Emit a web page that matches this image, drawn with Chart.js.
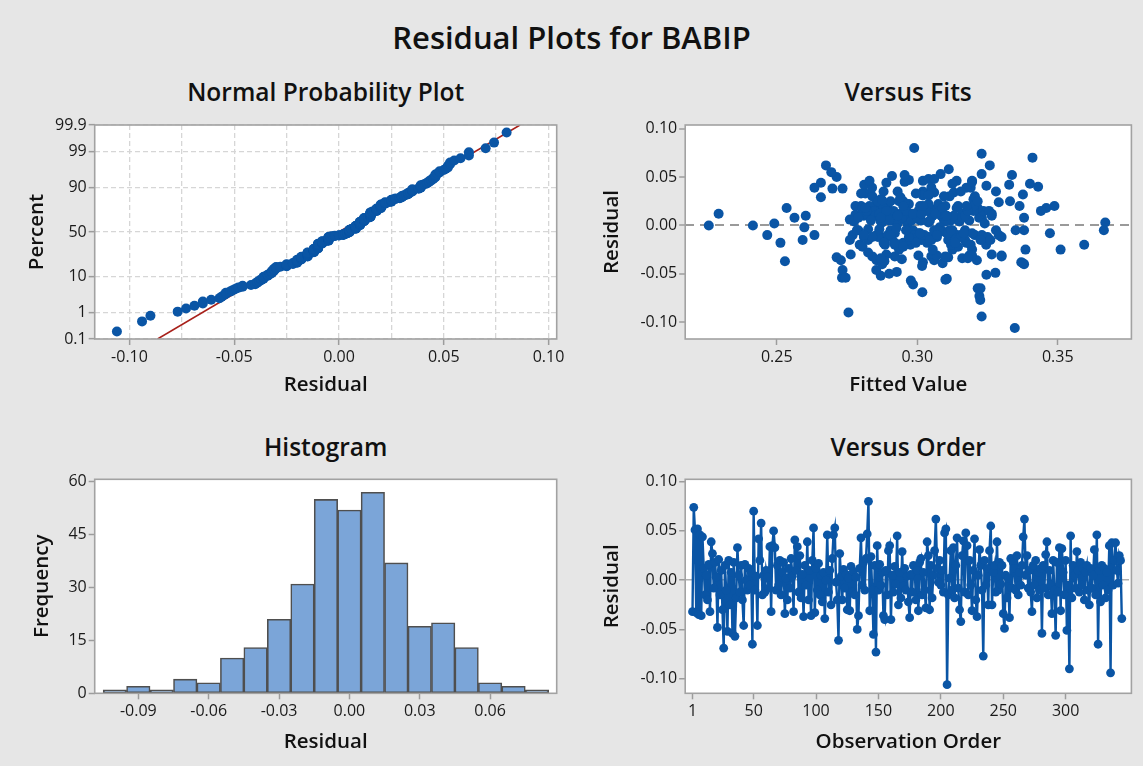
<!DOCTYPE html>
<html><head><meta charset="utf-8">
<script src="https://cdn.jsdelivr.net/npm/chart.js@4.4.1/dist/chart.umd.min.js"></script>
<style>
html,body{margin:0;padding:0;background:#e6e6e6;}
#page{position:relative;width:1143px;height:766px;overflow:hidden;background:#e6e6e6;font-family:'Open Sans',sans-serif;color:#111;}
canvas{position:absolute;}
.ttl{position:absolute;text-align:center;white-space:nowrap;font-weight:600;color:#111;}
</style></head><body>
<div id="page">
<div class="ttl" style="left:0;width:1143px;top:17px;font-size:31px;line-height:40px;">Residual Plots for BABIP</div>
<div class="ttl" style="left:94.7px;width:462px;top:76px;font-size:24.5px;line-height:32px;">Normal Probability Plot</div>
<div class="ttl" style="left:685.2px;width:446px;top:76px;font-size:24.5px;line-height:32px;">Versus Fits</div>
<div class="ttl" style="left:94.7px;width:462px;top:431px;font-size:24.5px;line-height:32px;">Histogram</div>
<div class="ttl" style="left:685.2px;width:446px;top:431px;font-size:24.5px;line-height:32px;">Versus Order</div>
<canvas id="cTL" width="571" height="300" style="left:0;top:110px"></canvas>
<canvas id="cTR" width="572" height="300" style="left:571px;top:110px"></canvas>
<canvas id="cBL" width="571" height="301" style="left:0;top:465px"></canvas>
<canvas id="cBR" width="572" height="301" style="left:571px;top:465px"></canvas>
</div>
<script>
// ---------------- DATA ----------------
// residuals in observation order (1..345)
const residuals = [
-0.032,0.074,0.051,-0.033,0.052,-0.035,0.046,-0.036,0.044,0.012,
-0.015,0.005,-0.020,0.016,-0.032,0.039,0.027,-0.008,0.018,0.003,
-0.048,0.021,-0.015,0.010,-0.030,-0.069,0.015,-0.010,-0.052,0.020,
-0.025,0.008,-0.054,0.018,-0.057,-0.018,0.033,0.005,-0.012,0.015,
-0.020,-0.046,0.016,0.000,-0.010,0.012,-0.005,0.008,-0.065,0.070,
-0.010,0.004,-0.046,0.042,0.020,0.058,-0.015,0.005,-0.012,0.010,
0.003,-0.008,0.034,-0.032,0.035,0.050,0.033,-0.010,0.015,-0.005,
0.020,-0.015,0.008,0.018,-0.034,0.002,-0.020,0.012,-0.008,0.022,
0.004,-0.032,0.041,0.010,0.034,-0.012,0.025,-0.018,0.006,-0.037,
0.015,-0.005,0.039,-0.020,0.010,-0.036,0.020,0.053,-0.033,0.012,
-0.010,0.017,-0.015,0.005,-0.022,0.008,-0.039,0.000,0.046,-0.012,
0.010,-0.025,0.022,0.046,0.053,-0.002,-0.020,-0.061,0.027,0.004,
-0.020,0.011,-0.008,0.006,-0.030,0.002,-0.031,0.014,-0.012,0.009,
-0.015,0.003,-0.050,-0.036,0.012,0.043,-0.005,0.018,-0.010,0.022,
0.047,0.080,-0.031,0.024,-0.010,-0.055,0.015,-0.073,0.035,-0.010,
0.016,-0.005,0.008,-0.036,-0.040,0.010,-0.015,0.030,0.035,-0.040,
0.005,-0.012,0.014,-0.004,0.045,-0.025,0.008,-0.018,0.029,-0.006,
0.012,-0.010,0.004,-0.022,-0.038,0.006,-0.012,0.015,0.014,-0.020,
0.010,-0.031,0.018,0.022,-0.015,0.008,-0.010,-0.028,0.039,0.025,
-0.030,0.015,-0.018,0.005,0.030,0.062,0.012,-0.002,0.020,-0.005,
0.010,-0.012,0.048,0.052,-0.106,-0.015,0.002,0.030,-0.010,0.033,
-0.018,0.015,0.043,-0.008,-0.030,-0.042,0.025,0.040,-0.012,0.048,
0.035,-0.015,0.020,-0.005,-0.031,0.010,0.042,-0.020,-0.037,0.005,
0.031,0.015,-0.010,-0.077,0.020,-0.005,0.012,-0.025,0.030,0.055,
-0.025,0.008,0.015,-0.012,0.039,-0.010,0.018,-0.004,0.015,-0.034,
-0.049,0.005,-0.018,0.002,-0.038,0.022,-0.008,0.018,0.012,-0.010,
0.025,-0.015,0.008,-0.005,0.015,0.044,0.062,0.005,0.025,-0.008,
0.010,-0.012,-0.032,0.015,-0.005,0.020,-0.018,0.008,-0.010,0.012,
-0.054,0.015,-0.008,0.026,0.039,-0.015,0.010,-0.005,-0.034,0.020,
-0.010,-0.056,0.018,-0.012,0.033,-0.031,0.032,0.008,-0.015,0.020,
-0.051,-0.005,-0.090,0.045,-0.018,0.015,0.005,-0.008,0.029,0.010,
-0.012,0.018,-0.005,0.012,-0.020,0.008,0.015,-0.010,-0.025,0.012,
-0.008,0.005,0.031,-0.015,0.046,-0.065,0.010,-0.022,0.015,-0.005,
0.012,-0.018,0.008,-0.010,0.035,-0.094,0.038,-0.005,0.020,0.038,
0.010,-0.003,0.025,0.020,-0.039
];
// fitted values paired with residuals
const fittedValues = [
0.3050,0.3229,0.2910,0.2713,0.3337,0.2945,0.3140,0.2728,0.2657,0.2293,
0.2880,0.3120,0.3594,0.2960,0.3300,0.2634,0.3200,0.3472,0.2535,0.3669,
0.2927,0.2850,0.2592,0.2603,0.2763,0.3018,0.3075,0.2466,0.2870,0.3364,
0.3385,0.2563,0.2732,0.3459,0.2977,0.2513,0.2815,0.3010,0.2905,0.3180,
0.2795,0.2734,0.3065,0.2258,0.2634,0.2940,0.3664,0.3230,0.3215,0.3410,
0.3155,0.2870,0.2854,0.3327,0.3488,0.3112,0.2825,0.3095,0.2990,0.2785,
0.3040,0.2915,0.3060,0.2840,0.2930,0.2713,0.3025,0.3205,0.2860,0.3115,
0.2800,0.3045,0.2955,0.3140,0.3160,0.2491,0.2885,0.3265,0.2980,0.2895,
0.3100,0.2920,0.3246,0.2810,0.3130,0.3035,0.2950,0.3175,0.2760,0.2529,
0.3005,0.2790,0.3190,0.2975,0.3085,0.3212,0.2830,0.3083,0.3110,0.2945,
0.2865,0.3050,0.3170,0.2910,0.2805,0.3220,0.3090,0.2415,0.3195,0.3000,
0.2835,0.3125,0.2970,0.3020,0.3229,0.3080,0.2935,0.2985,0.2870,0.3150,
0.3245,0.2780,0.3005,0.3150,0.2890,0.2965,0.3185,0.2840,0.3070,0.2925,
0.3110,0.2875,0.2900,0.3060,0.2815,0.3125,0.2985,0.3210,0.2770,0.3040,
0.2970,0.2989,0.3004,0.3290,0.2855,0.3105,0.2915,0.3221,0.3020,0.3135,
0.2805,0.3170,0.2990,0.2855,0.2875,0.3055,0.2760,0.3115,0.2880,0.3380,
0.2935,0.3250,0.3005,0.2825,0.2955,0.3195,0.2870,0.3035,0.2657,0.3090,
0.3160,0.2895,0.2775,0.3145,0.3020,0.2960,0.3300,0.2845,0.3225,0.2920,
0.2995,0.3195,0.2880,0.3075,0.3015,0.2790,0.3140,0.2825,0.3175,0.2905,
0.3060,0.3235,0.2950,0.3185,0.2840,0.2675,0.3080,0.2598,0.3010,0.2905,
0.3130,0.2860,0.3040,0.2955,0.3347,0.3050,0.2930,0.3205,0.3165,0.2800,
0.2885,0.3255,0.3401,0.3105,0.3265,0.3017,0.2935,0.3430,0.2810,0.3060,
0.3155,0.2975,0.3100,0.3280,0.3070,0.2850,0.2811,0.3190,0.2883,0.3045,
0.3020,0.2900,0.3230,0.3224,0.2780,0.3125,0.2965,0.3510,0.3095,0.2694,
0.2935,0.3160,0.2820,0.3040,0.2839,0.2990,0.3215,0.2865,0.3080,0.3180,
0.3278,0.3015,0.2880,0.3240,0.3370,0.2955,0.3110,0.2805,0.3050,0.3290,
0.2860,0.3135,0.2945,0.3060,0.3200,0.2890,0.3258,0.2980,0.3330,0.2920,
0.3170,0.2840,0.3100,0.3030,0.2785,0.3145,0.2995,0.3380,0.2905,0.3065,
0.2745,0.2960,0.3195,0.2875,0.3050,0.3260,0.2930,0.3120,0.2870,0.3200,
0.3025,0.3100,0.2815,0.3155,0.2995,0.3300,0.3376,0.2895,0.3045,0.2950,
0.3246,0.3075,0.2755,0.3195,0.2920,0.3180,0.2835,0.3010,0.2940,0.3265,
0.2970,0.3090,0.3350,0.2865,0.3120,0.3000,0.3440,0.2810,0.3055,0.2985,
0.3165,0.2900,0.3040,0.3225,0.2830,0.3225,0.3100,0.2950,0.2890,0.3380,
0.3015,0.3135,0.2870,0.3070,0.3280,0.3229,0.2698,0.2960,0.3175,0.2734,
0.3105,0.2925,0.3215,0.3020,0.3376
];
// histogram
const histBinCenters = [-0.10,-0.09,-0.08,-0.07,-0.06,-0.05,-0.04,-0.03,-0.02,-0.01,0.00,0.01,0.02,0.03,0.04,0.05,0.06,0.07,0.08];
const histCounts     = [1,2,1,4,3,10,13,21,31,55,52,57,37,19,20,13,3,2,1];
// normal-plot fitted line (residual at 0.1% and 99.9%)
const npLineResidual = [-0.0866, 0.0864];
const npLinePercent  = [0.1, 99.9];
// tick values
const npXTicks    = [-0.10,-0.075,-0.05,-0.025,0,0.025,0.05,0.075,0.10];
const npPctTicks  = [0.1,1,10,50,90,99,99.9];
const fitsXTicks  = [0.25,0.30,0.35];
const residTicks  = [-0.10,-0.05,0,0.05,0.10];
const histXTicks  = [-0.09,-0.06,-0.03,0,0.03,0.06];
const histYTicks  = [0,15,30,45,60];
const orderXTicks = [1,50,100,150,200,250,300];

// ---------------- HELPERS ----------------
function invNorm(p){
 const a=[-3.969683028665376e+01,2.209460984245205e+02,-2.759285104469687e+02,1.383577518672690e+02,-3.066479806614716e+01,2.506628277459239e+00];
 const b=[-5.447609879822406e+01,1.615858368580409e+02,-1.556989798598866e+02,6.680131188771972e+01,-1.328068155288572e+01];
 const c=[-7.784894002430293e-03,-3.223964580411365e-01,-2.400758277161838e+00,-2.549732539343734e+00,4.374664141464968e+00,2.938163982698783e+00];
 const d=[7.784695709041462e-03,3.224671290700398e-01,2.445134137142996e+00,3.754408661907416e+00];
 const pl=0.02425, ph=1-pl; let q,r;
 if(p<pl){q=Math.sqrt(-2*Math.log(p));return (((((c[0]*q+c[1])*q+c[2])*q+c[3])*q+c[4])*q+c[5])/((((d[0]*q+d[1])*q+d[2])*q+d[3])*q+1);}
 if(p<=ph){q=p-0.5;r=q*q;return (((((a[0]*r+a[1])*r+a[2])*r+a[3])*r+a[4])*r+a[5])*q/(((((b[0]*r+b[1])*r+b[2])*r+b[3])*r+b[4])*r+1);}
 q=Math.sqrt(-2*Math.log(1-p));return -(((((c[0]*q+c[1])*q+c[2])*q+c[3])*q+c[4])*q+c[5])/((((d[0]*q+d[1])*q+d[2])*q+d[3])*q+1);
}
const FONT = "'Open Sans', sans-serif";
const BLUE = '#0a55a5';
const TICKC = '#9c9c9c';
Chart.defaults.font.family = FONT;
Chart.defaults.animation = false;
Chart.defaults.plugins.legend.display = false;
Chart.defaults.plugins.tooltip.enabled = false;
Chart.defaults.events = [];

const framePlugin = {
  id:'frame',
  beforeDraw(chart){const a=chart.chartArea,c=chart.ctx;c.save();c.fillStyle='#ffffff';c.fillRect(a.left,a.top,a.right-a.left,a.bottom-a.top);c.restore();},
  afterDraw(chart){const a=chart.chartArea,c=chart.ctx;c.save();c.strokeStyle='#a2a2a2';c.lineWidth=1.6;c.strokeRect(a.left,a.top,a.right-a.left,a.bottom-a.top);c.restore();}
};

function axis(o){
  const s = {
    type:'linear', min:o.min, max:o.max, offset:false,
    afterBuildTicks: sc => { sc.ticks = o.ticks.map(v=>({value:v})); },
    afterFit: sc => { if(o.horizontal) sc.height = o.size; else sc.width = o.size; },
    ticks:{ autoSkip:false, maxRotation:0, minRotation:0, padding: o.horizontal?3:2, color:'#1a1a1a',
            font:{size:16, family:FONT}, callback:o.labels },
    grid:{ display:true, drawOnChartArea: !!o.gridOn, offset:false, color: o.gridColor || 'rgba(0,0,0,0)',
           lineWidth: o.gridWidth || 1, drawTicks:true, tickLength:6,
           tickColor: o.tickColorFn || TICKC, tickWidth:1.5 },
    border:{ display:false, dash: o.dash || [] },
    title:{ display:true, text:o.title, color:'#111', font:{size:20.5, weight:'600', family:FONT},
            padding: o.horizontal ? {top:0,bottom:o.titlePad} : {top:o.titlePad,bottom:0} }
  };
  return s;
}
const fmt2 = v => (v<0?'-':'') + Math.abs(v).toFixed(2);

// ---------------- NORMAL PROBABILITY PLOT ----------------
const n = residuals.length;
const sortedRes = residuals.slice().sort((a,b)=>a-b);
const npPoints = sortedRes.map((r,i)=>({x:r, y:invNorm((i+1-0.3)/(n+0.4))}));
const zTop = invNorm(0.999);
new Chart(document.getElementById('cTL'), {
  type:'scatter',
  data:{datasets:[
    {type:'scatter', data:npPoints, pointRadius:5, pointBackgroundColor:BLUE, pointBorderWidth:0, order:0},
    {type:'line', data:npLineResidual.map((r,i)=>({x:r,y:invNorm(npLinePercent[i]/100)})), borderColor:'#a8201a', borderWidth:1.6, pointRadius:0, order:1}
  ]},
  options:{ responsive:false, layout:{padding:{left:0,top:15,right:14.3,bottom:0}},
    scales:{
      x: axis({min:-0.1166,max:0.1039,ticks:npXTicks,horizontal:true,size:71,title:'Residual',titlePad:13,
               labels:(v,i)=> (i%2===0? fmt2(v):''), gridOn:true, gridColor:'#d6d6d6', gridWidth:1.3, dash:[5,3],
               tickColorFn: ctx => (ctx.index%2===0 ? TICKC : 'rgba(0,0,0,0)')}),
      y: axis({min:-zTop,max:zTop,ticks:npPctTicks.map(p=>invNorm(p/100)),size:94.7,title:'Percent',titlePad:25,
               labels:(v,i)=> String(npPctTicks[i]), gridOn:true, gridColor:'#d6d6d6', gridWidth:1.3, dash:[5,3]})
    }},
  plugins:[framePlugin]
});

// ---------------- VERSUS FITS ----------------
new Chart(document.getElementById('cTR'), {
  type:'scatter',
  data:{datasets:[{data:residuals.map((r,i)=>({x:fittedValues[i], y:r})), pointRadius:5, pointBackgroundColor:BLUE, pointBorderWidth:0}]},
  options:{ responsive:false, layout:{padding:{left:0,top:15,right:11.6,bottom:0}},
    scales:{
      x: axis({min:0.2174,max:0.3762,ticks:fitsXTicks,horizontal:true,size:71,title:'Fitted Value',titlePad:13,labels:v=>fmt2(v)}),
      y: axis({min:-0.1173,max:0.1037,ticks:residTicks,size:114.2,title:'Residual',titlePad:29,labels:v=>fmt2(v),
               gridOn:true, gridColor: ctx => (ctx.tick && ctx.tick.value===0 ? '#9a9a9a' : 'rgba(0,0,0,0)'), gridWidth:2, dash:[9,6]})
    }},
  plugins:[framePlugin]
});

// ---------------- HISTOGRAM ----------------
new Chart(document.getElementById('cBL'), {
  type:'bar',
  data:{datasets:[{data:histBinCenters.map((c,i)=>({x:c,y:histCounts[i]})), backgroundColor:'#7ba5d8', borderColor:'#4f4f4f', borderWidth:1.6, borderSkipped:false, barPercentage:1, categoryPercentage:1}]},
  options:{ responsive:false, layout:{padding:{left:0,top:14.3,right:14.3,bottom:0}},
    scales:{
      x: axis({min:-0.1086,max:0.0884,ticks:histXTicks,horizontal:true,size:72.7,title:'Residual',titlePad:12,labels:v=>fmt2(v)}),
      y: axis({min:0,max:60.7,ticks:histYTicks,size:94.7,title:'Frequency',titlePad:30,labels:v=>String(v)})
    }},
  plugins:[framePlugin]
});

// ---------------- VERSUS ORDER ----------------
new Chart(document.getElementById('cBR'), {
  type:'line',
  data:{datasets:[{data:residuals.map((r,i)=>({x:i+1,y:r})), borderColor:BLUE, borderWidth:2.4, pointRadius:4.4, pointBackgroundColor:BLUE, pointBorderWidth:0, tension:0}]},
  options:{ responsive:false, layout:{padding:{left:0,top:14.3,right:11.6,bottom:0}},
    scales:{
      x: axis({min:-4.85,max:352.7,ticks:orderXTicks,horizontal:true,size:72.7,title:'Observation Order',titlePad:12,labels:v=>String(v)}),
      y: axis({min:-0.1148,max:0.1024,ticks:residTicks,size:114.2,title:'Residual',titlePad:29,labels:v=>fmt2(v),
               gridOn:true, gridColor: ctx => (ctx.tick && ctx.tick.value===0 ? '#b0b0b0' : 'rgba(0,0,0,0)'), gridWidth:1.5, dash:[9,6]})
    }},
  plugins:[framePlugin]
});
</script>
</body></html>
